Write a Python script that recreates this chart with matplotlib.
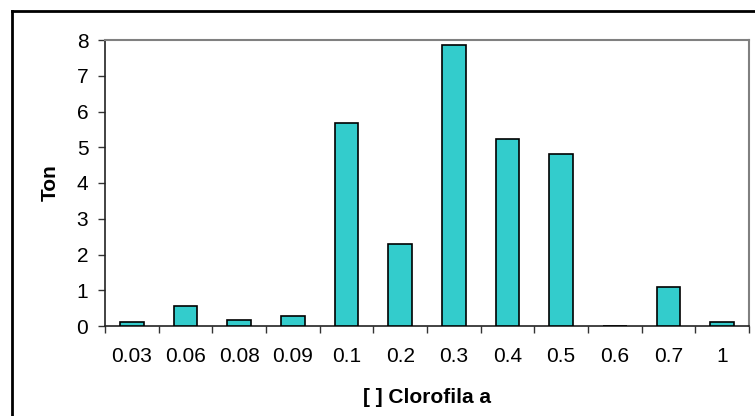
import matplotlib
matplotlib.use('Agg')
import matplotlib.pyplot as plt
from matplotlib.lines import Line2D
import numpy as np

plt.rcParams['font.family'] = ['Liberation Sans', 'DejaVu Sans']

# data
categories = ['0.03', '0.06', '0.08', '0.09', '0.1', '0.2', '0.3',
              '0.4', '0.5', '0.6', '0.7', '1']
ton = [0.10, 0.55, 0.16, 0.27, 5.67, 2.29, 7.85, 5.24, 4.80, 0.0, 1.09, 0.10]
yticks = [0, 1, 2, 3, 4, 5, 6, 7, 8]

fig = plt.figure(figsize=(7.55, 4.16), dpi=100)
ax = fig.add_axes([105/755, 1-326/416, (749-105)/755, (326-40)/416])

x = np.arange(len(categories))
ax.bar(x, ton, width=0.44, color='#33CCCC', edgecolor='black', linewidth=1.2, zorder=3)

ax.set_xlim(-0.5, len(categories)-0.5)
ax.set_ylim(0, 8)
ax.set_yticks(yticks)
ax.set_yticklabels([str(v) for v in yticks])
# excel-like ticks between categories
ax.set_xticks(np.arange(len(categories)+1) - 0.5)
ax.set_xticklabels([])
ax.set_xticks(x, minor=True)
ax.set_xticklabels(categories, minor=True)
ax.tick_params(axis='x', which='major', direction='out', length=5, width=1, color='#333333')
ax.tick_params(axis='x', which='minor', length=0, pad=15, labelsize=15)
ax.tick_params(axis='y', direction='out', length=5, width=1, color='#333333', pad=7, labelsize=15)

for s in ['top', 'right']:
    ax.spines[s].set_color('#808080')
    ax.spines[s].set_linewidth(1.5)
ax.spines['left'].set_color('#222222')
ax.spines['bottom'].set_color('#222222')
ax.spines['left'].set_linewidth(1.2)
ax.spines['bottom'].set_linewidth(1.2)

ax.set_ylabel('Ton', fontsize=15, fontweight='bold', labelpad=12)
ax.set_xlabel('[ ] Clorofila a', fontsize=15, fontweight='bold', labelpad=16)

# outer chart frame (cropped on the right and bottom)
fig.add_artist(Line2D([11.5/755, 11.5/755], [0, 1-11/416], color='black', lw=2, transform=fig.transFigure))
fig.add_artist(Line2D([11.5/755, 1], [1-11/416, 1-11/416], color='black', lw=2, transform=fig.transFigure))

fig.savefig('out.png', dpi=100)
